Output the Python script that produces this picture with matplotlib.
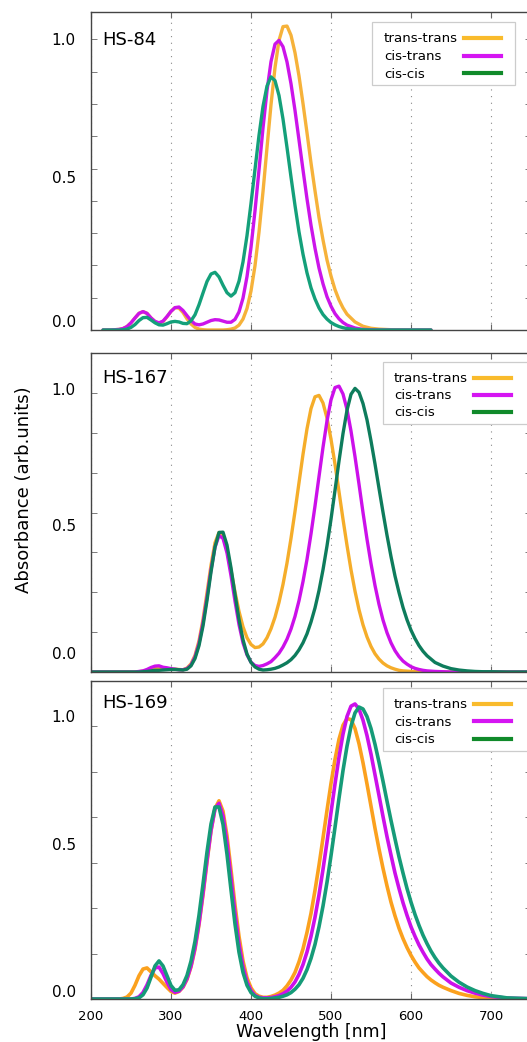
import matplotlib.pyplot as plt
import matplotlib.transforms as mtransforms
from matplotlib.patches import Rectangle
from matplotlib.ticker import MultipleLocator

# ---- HS-84 ----
wl_84 = [215, 225, 235, 240, 245, 250, 255, 260, 265, 270, 275, 280, 285, 290, 295,
         300, 305, 310, 315, 320, 325, 330, 335, 340, 345, 350, 355, 360, 365, 370,
         375, 380, 385, 390, 395, 400, 405, 410, 415, 420, 425, 430, 435, 440, 445,
         450, 455, 460, 465, 470, 475, 480, 485, 490, 495, 500, 505, 510, 515, 520,
         530, 540, 550, 560, 575, 600, 625]
tt_84 = [0.000, 0.000, 0.002, 0.005, 0.012, 0.025, 0.042, 0.058, 0.064, 0.058, 0.042, 0.029, 0.023, 0.029, 0.046,
         0.065, 0.078, 0.076, 0.061, 0.039, 0.021, 0.009, 0.003, 0.001, 0.000, 0.000, 0.000, 0.000, 0.000, 0.001,
         0.003, 0.007, 0.017, 0.038, 0.075, 0.136, 0.224, 0.341, 0.482, 0.635, 0.785, 0.914, 1.009, 1.057, 1.059,
         1.027, 0.966, 0.885, 0.789, 0.687, 0.582, 0.485, 0.392, 0.314, 0.244, 0.188, 0.141, 0.105, 0.077, 0.055,
         0.028, 0.013, 0.006, 0.003, 0.001, 0.000, 0.000]
ct_84 = [0.000, 0.000, 0.002, 0.005, 0.012, 0.025, 0.042, 0.058, 0.064, 0.058, 0.042, 0.030, 0.025, 0.031, 0.047,
         0.065, 0.078, 0.080, 0.068, 0.050, 0.033, 0.021, 0.018, 0.021, 0.027, 0.033, 0.036, 0.035, 0.031, 0.027,
         0.027, 0.037, 0.063, 0.111, 0.186, 0.288, 0.415, 0.558, 0.704, 0.834, 0.935, 0.996, 1.009, 0.987, 0.934,
         0.858, 0.765, 0.662, 0.558, 0.457, 0.365, 0.285, 0.216, 0.161, 0.116, 0.083, 0.057, 0.039, 0.026, 0.017,
         0.007, 0.002, 0.001, 0.000, 0.000, 0.000, 0.000]
cc_84 = [0.000, 0.000, 0.000, 0.001, 0.003, 0.009, 0.019, 0.033, 0.043, 0.044, 0.035, 0.025, 0.018, 0.017, 0.022,
         0.028, 0.030, 0.028, 0.023, 0.022, 0.032, 0.053, 0.088, 0.129, 0.169, 0.195, 0.201, 0.185, 0.156, 0.130,
         0.118, 0.130, 0.170, 0.237, 0.329, 0.441, 0.560, 0.678, 0.779, 0.850, 0.882, 0.869, 0.817, 0.735, 0.636,
         0.533, 0.434, 0.342, 0.264, 0.199, 0.147, 0.108, 0.077, 0.054, 0.038, 0.026, 0.018, 0.012, 0.008, 0.005,
         0.002, 0.001, 0.000, 0.000, 0.000, 0.000, 0.000]

# ---- HS-167 ----
wl_167 = [200, 225, 250, 255, 260, 265, 270, 275, 280, 285, 290, 295, 300, 305, 310,
          315, 320, 325, 330, 335, 340, 345, 350, 355, 360, 365, 370, 375, 380, 385,
          390, 395, 400, 405, 410, 415, 420, 425, 430, 435, 440, 445, 450, 455, 460,
          465, 470, 475, 480, 485, 490, 495, 500, 505, 510, 515, 520, 525, 530, 535,
          540, 545, 550, 555, 560, 565, 570, 575, 580, 585, 590, 595, 600, 605, 610,
          615, 620, 630, 640, 650, 660, 670, 680, 690, 700, 720, 750]
tt_167 = [0.000, 0.000, 0.000, 0.000, 0.001, 0.003, 0.006, 0.009, 0.012, 0.012, 0.010, 0.010, 0.010, 0.010, 0.009,
          0.008, 0.014, 0.029, 0.059, 0.111, 0.187, 0.282, 0.380, 0.460, 0.497, 0.484, 0.434, 0.362, 0.285, 0.216,
          0.161, 0.122, 0.098, 0.087, 0.089, 0.100, 0.122, 0.154, 0.195, 0.248, 0.312, 0.388, 0.476, 0.572, 0.674,
          0.775, 0.866, 0.938, 0.980, 0.985, 0.958, 0.904, 0.829, 0.740, 0.642, 0.544, 0.451, 0.364, 0.288, 0.222,
          0.168, 0.125, 0.091, 0.065, 0.046, 0.032, 0.022, 0.015, 0.010, 0.006, 0.004, 0.003, 0.002, 0.001, 0.001,
          0.000, 0.000, 0.000, 0.000, 0.000, 0.000, 0.000, 0.000, 0.000, 0.000, 0.000, 0.000]
ct_167 = [0.000, 0.000, 0.000, 0.000, 0.002, 0.004, 0.009, 0.016, 0.021, 0.022, 0.017, 0.015, 0.012, 0.010, 0.008,
          0.008, 0.012, 0.025, 0.054, 0.102, 0.175, 0.266, 0.364, 0.444, 0.486, 0.476, 0.424, 0.343, 0.252, 0.169,
          0.104, 0.061, 0.035, 0.023, 0.020, 0.023, 0.029, 0.037, 0.051, 0.067, 0.089, 0.117, 0.153, 0.198, 0.254,
          0.322, 0.401, 0.492, 0.591, 0.696, 0.800, 0.894, 0.969, 1.013, 1.018, 0.990, 0.935, 0.858, 0.767, 0.669,
          0.568, 0.473, 0.386, 0.308, 0.241, 0.185, 0.140, 0.104, 0.076, 0.055, 0.039, 0.028, 0.019, 0.013, 0.009,
          0.006, 0.004, 0.002, 0.001, 0.000, 0.000, 0.000, 0.000, 0.000, 0.000, 0.000, 0.000]
cc_167 = [0.000, 0.000, 0.000, 0.000, 0.000, 0.001, 0.002, 0.004, 0.006, 0.006, 0.007, 0.008, 0.009, 0.009, 0.008,
          0.007, 0.010, 0.022, 0.048, 0.094, 0.164, 0.255, 0.356, 0.445, 0.497, 0.498, 0.452, 0.371, 0.277, 0.187,
          0.115, 0.064, 0.034, 0.018, 0.010, 0.007, 0.008, 0.010, 0.013, 0.018, 0.025, 0.033, 0.044, 0.059, 0.079,
          0.104, 0.136, 0.178, 0.228, 0.290, 0.364, 0.449, 0.544, 0.647, 0.751, 0.849, 0.932, 0.989, 1.010, 0.996,
          0.956, 0.898, 0.823, 0.741, 0.654, 0.569, 0.487, 0.411, 0.342, 0.283, 0.230, 0.186, 0.149, 0.119, 0.094,
          0.074, 0.058, 0.034, 0.021, 0.012, 0.007, 0.004, 0.002, 0.001, 0.001, 0.000, 0.000]

# ---- HS-169 ----
wl_169 = [200, 225, 235, 240, 245, 250, 255, 260, 265, 270, 275, 280, 285, 290, 295,
          300, 305, 310, 315, 320, 325, 330, 335, 340, 345, 350, 355, 360, 365, 370,
          375, 380, 385, 390, 395, 400, 405, 410, 415, 420, 425, 430, 435, 440, 445,
          450, 455, 460, 465, 470, 475, 480, 485, 490, 495, 500, 505, 510, 515, 520,
          525, 530, 535, 540, 545, 550, 555, 560, 565, 570, 575, 580, 585, 590, 595,
          600, 605, 610, 615, 620, 625, 630, 635, 640, 650, 660, 670, 680, 690, 700,
          720, 750]
tt_169 = [0.000, 0.000, 0.000, 0.002, 0.007, 0.021, 0.049, 0.083, 0.107, 0.111, 0.097, 0.083, 0.071, 0.056, 0.041,
          0.027, 0.021, 0.027, 0.042, 0.070, 0.115, 0.178, 0.265, 0.372, 0.489, 0.600, 0.681, 0.708, 0.671, 0.583,
          0.462, 0.336, 0.224, 0.136, 0.076, 0.040, 0.019, 0.010, 0.006, 0.006, 0.009, 0.014, 0.021, 0.031, 0.047,
          0.068, 0.095, 0.133, 0.179, 0.238, 0.306, 0.388, 0.478, 0.575, 0.674, 0.770, 0.856, 0.928, 0.978, 1.002,
          0.998, 0.966, 0.912, 0.844, 0.768, 0.689, 0.610, 0.536, 0.467, 0.404, 0.346, 0.297, 0.253, 0.216, 0.184,
          0.156, 0.132, 0.111, 0.095, 0.080, 0.068, 0.058, 0.049, 0.042, 0.030, 0.020, 0.013, 0.008, 0.005, 0.003,
          0.001, 0.000]
ct_169 = [0.000, 0.000, 0.000, 0.000, 0.000, 0.000, 0.002, 0.008, 0.023, 0.050, 0.084, 0.111, 0.114, 0.091, 0.060,
          0.034, 0.024, 0.028, 0.044, 0.073, 0.118, 0.184, 0.271, 0.379, 0.496, 0.603, 0.679, 0.699, 0.654, 0.557,
          0.432, 0.305, 0.196, 0.115, 0.061, 0.030, 0.013, 0.006, 0.004, 0.004, 0.005, 0.008, 0.012, 0.019, 0.028,
          0.042, 0.061, 0.088, 0.123, 0.168, 0.224, 0.292, 0.372, 0.463, 0.561, 0.666, 0.768, 0.864, 0.946, 1.009,
          1.046, 1.054, 1.036, 0.996, 0.941, 0.875, 0.801, 0.727, 0.652, 0.580, 0.514, 0.450, 0.395, 0.344, 0.299,
          0.258, 0.224, 0.193, 0.167, 0.143, 0.123, 0.107, 0.092, 0.079, 0.057, 0.042, 0.030, 0.021, 0.014, 0.009,
          0.003, 0.001]
cc_169 = [0.000, 0.000, 0.000, 0.000, 0.000, 0.000, 0.001, 0.004, 0.015, 0.039, 0.078, 0.118, 0.136, 0.118, 0.083,
          0.048, 0.031, 0.033, 0.051, 0.084, 0.135, 0.206, 0.299, 0.410, 0.525, 0.625, 0.686, 0.686, 0.624, 0.517,
          0.390, 0.268, 0.167, 0.095, 0.049, 0.023, 0.010, 0.004, 0.001, 0.001, 0.002, 0.004, 0.006, 0.010, 0.015,
          0.023, 0.035, 0.051, 0.074, 0.105, 0.145, 0.195, 0.258, 0.332, 0.417, 0.512, 0.613, 0.717, 0.816, 0.903,
          0.974, 1.022, 1.043, 1.036, 1.009, 0.966, 0.910, 0.846, 0.778, 0.707, 0.638, 0.572, 0.508, 0.450, 0.395,
          0.346, 0.302, 0.263, 0.228, 0.198, 0.171, 0.148, 0.128, 0.111, 0.082, 0.060, 0.043, 0.030, 0.020, 0.012,
          0.004, 0.001]

labels = ["trans-trans", "cis-trans", "cis-cis"]
legend_colors = ["#f9bb2c", "#d515f2", "#108a2a"]
x_ticks = [200, 300, 400, 500, 600, 700]

W, H = 527, 1042
AX_LEFT, AX_W = 91, 440   # px; the axes run a little past the right edge of the picture
fig = plt.figure(figsize=(W / 100, H / 100), dpi=100)

# name, data, axes top/bottom (px), y max, minor tick step, curve colours,
# legend frame (x0, x1, y0, y1 px), legend rows (px), tick-label nudges (px), line width
panels = [
    ("HS-84", wl_84, tt_84, ct_84, cc_84, 12, 330, 1.108, 0.1125,
     ["#f6b23a", "#cc14ea", "#14a07a"],
     (372, 515, 22, 85), (39, 56.5, 74), 384, (464, 501), [9, 9.5, 4], 2.4),
    ("HS-167", wl_167, tt_167, ct_167, cc_167, 353, 672, 1.136, 0.142,
     ["#f5ad2a", "#cc10ea", "#0e7c5c"],
     (383, 528, 362, 424), (378.5, 395.5, 412.5), 394, (474, 511), [19, 7, 2.5], 2.4),
    ("HS-169", wl_169, tt_169, ct_169, cc_169, 681, 999, 1.136, 0.1625,
     ["#fba11e", "#cc10ea", "#169b78"],
     (383, 528, 688, 751), (704.5, 722, 739.5), 394, (474, 511), [8, 15, 3], 2.6),
]

for i, p in enumerate(panels):
    (name, wl, tt, ct, cc, top, bot, ymax, step, cols,
     frame, rows, text_x, line_x, shifts, lw) = p
    ax = fig.add_axes([AX_LEFT / W, 1 - bot / H, AX_W / W, (bot - top) / H])
    ax.plot(wl, tt, color=cols[0], lw=lw, solid_capstyle="round")
    ax.plot(wl, ct, color=cols[1], lw=lw, solid_capstyle="round")
    ax.plot(wl, cc, color=cols[2], lw=lw, solid_capstyle="round")

    ax.set_xlim(200, 750)
    ax.set_ylim(0, ymax)
    ax.set_xticks(x_ticks)
    ax.grid(axis="x", color="#888888", linestyle=(0, (1, 5)), lw=0.8)

    ax.set_yticks([0, 0.5, 1.0])
    ax.set_yticklabels(["0.0", "0.5", "1.0"])
    ax.yaxis.set_minor_locator(MultipleLocator(step))
    ax.tick_params(axis="y", which="major", length=0, pad=11, labelsize=11)
    ax.tick_params(axis="y", which="minor", direction="in", length=4,
                   left=True, right=True, color="#666666")
    ax.tick_params(axis="x", direction="in", length=4, top=True, bottom=True,
                   color="#666666", labelsize=9.5, pad=8,
                   labelbottom=(i == 2))
    for sp in ax.spines.values():
        sp.set_color("#444444")
        sp.set_linewidth(1.0)

    # the tick labels sit a bit above their ticks in the original
    for lab, s in zip(ax.get_yticklabels(), shifts):
        off = mtransforms.ScaledTranslation(0, s / 100, fig.dpi_scale_trans)
        lab.set_transform(lab.get_transform() + off)

    # pixel -> axes fraction helpers for the panel decorations
    fx = lambda px: (px - AX_LEFT) / AX_W
    fy = lambda py, t=top, b=bot: (b - py) / (b - t)

    ytxt = (40, 378, 703)[i]
    ax.text(fx(102), fy(ytxt), name, transform=ax.transAxes, fontsize=13, va="center")

    # gnuplot-style key: text left aligned, samples in a column on the right
    x0, x1, y0, y1 = frame
    ax.add_patch(Rectangle((fx(x0), fy(y1)), fx(x1) - fx(x0), fy(y0) - fy(y1),
                           transform=ax.transAxes, facecolor="white",
                           edgecolor="#cccccc", lw=0.9, zorder=5))
    for lab, col, ry in zip(labels, legend_colors, rows):
        ax.text(fx(text_x), fy(ry), lab, transform=ax.transAxes, fontsize=9.6,
                va="center", zorder=6)
        ax.plot([fx(line_x[0]), fx(line_x[1])], [fy(ry - 1), fy(ry - 1)],
                transform=ax.transAxes, color=col, lw=3, zorder=6, clip_on=False)

fig.text(24 / W, 1 - 490 / H, "Absorbance (arb.units)", rotation=90,
         ha="center", va="center", fontsize=13)
fig.text(311 / W, 1 - 1032 / H, "Wavelength [nm]", ha="center", va="center",
         fontsize=12.5)

fig.savefig("out.png", dpi=100)
